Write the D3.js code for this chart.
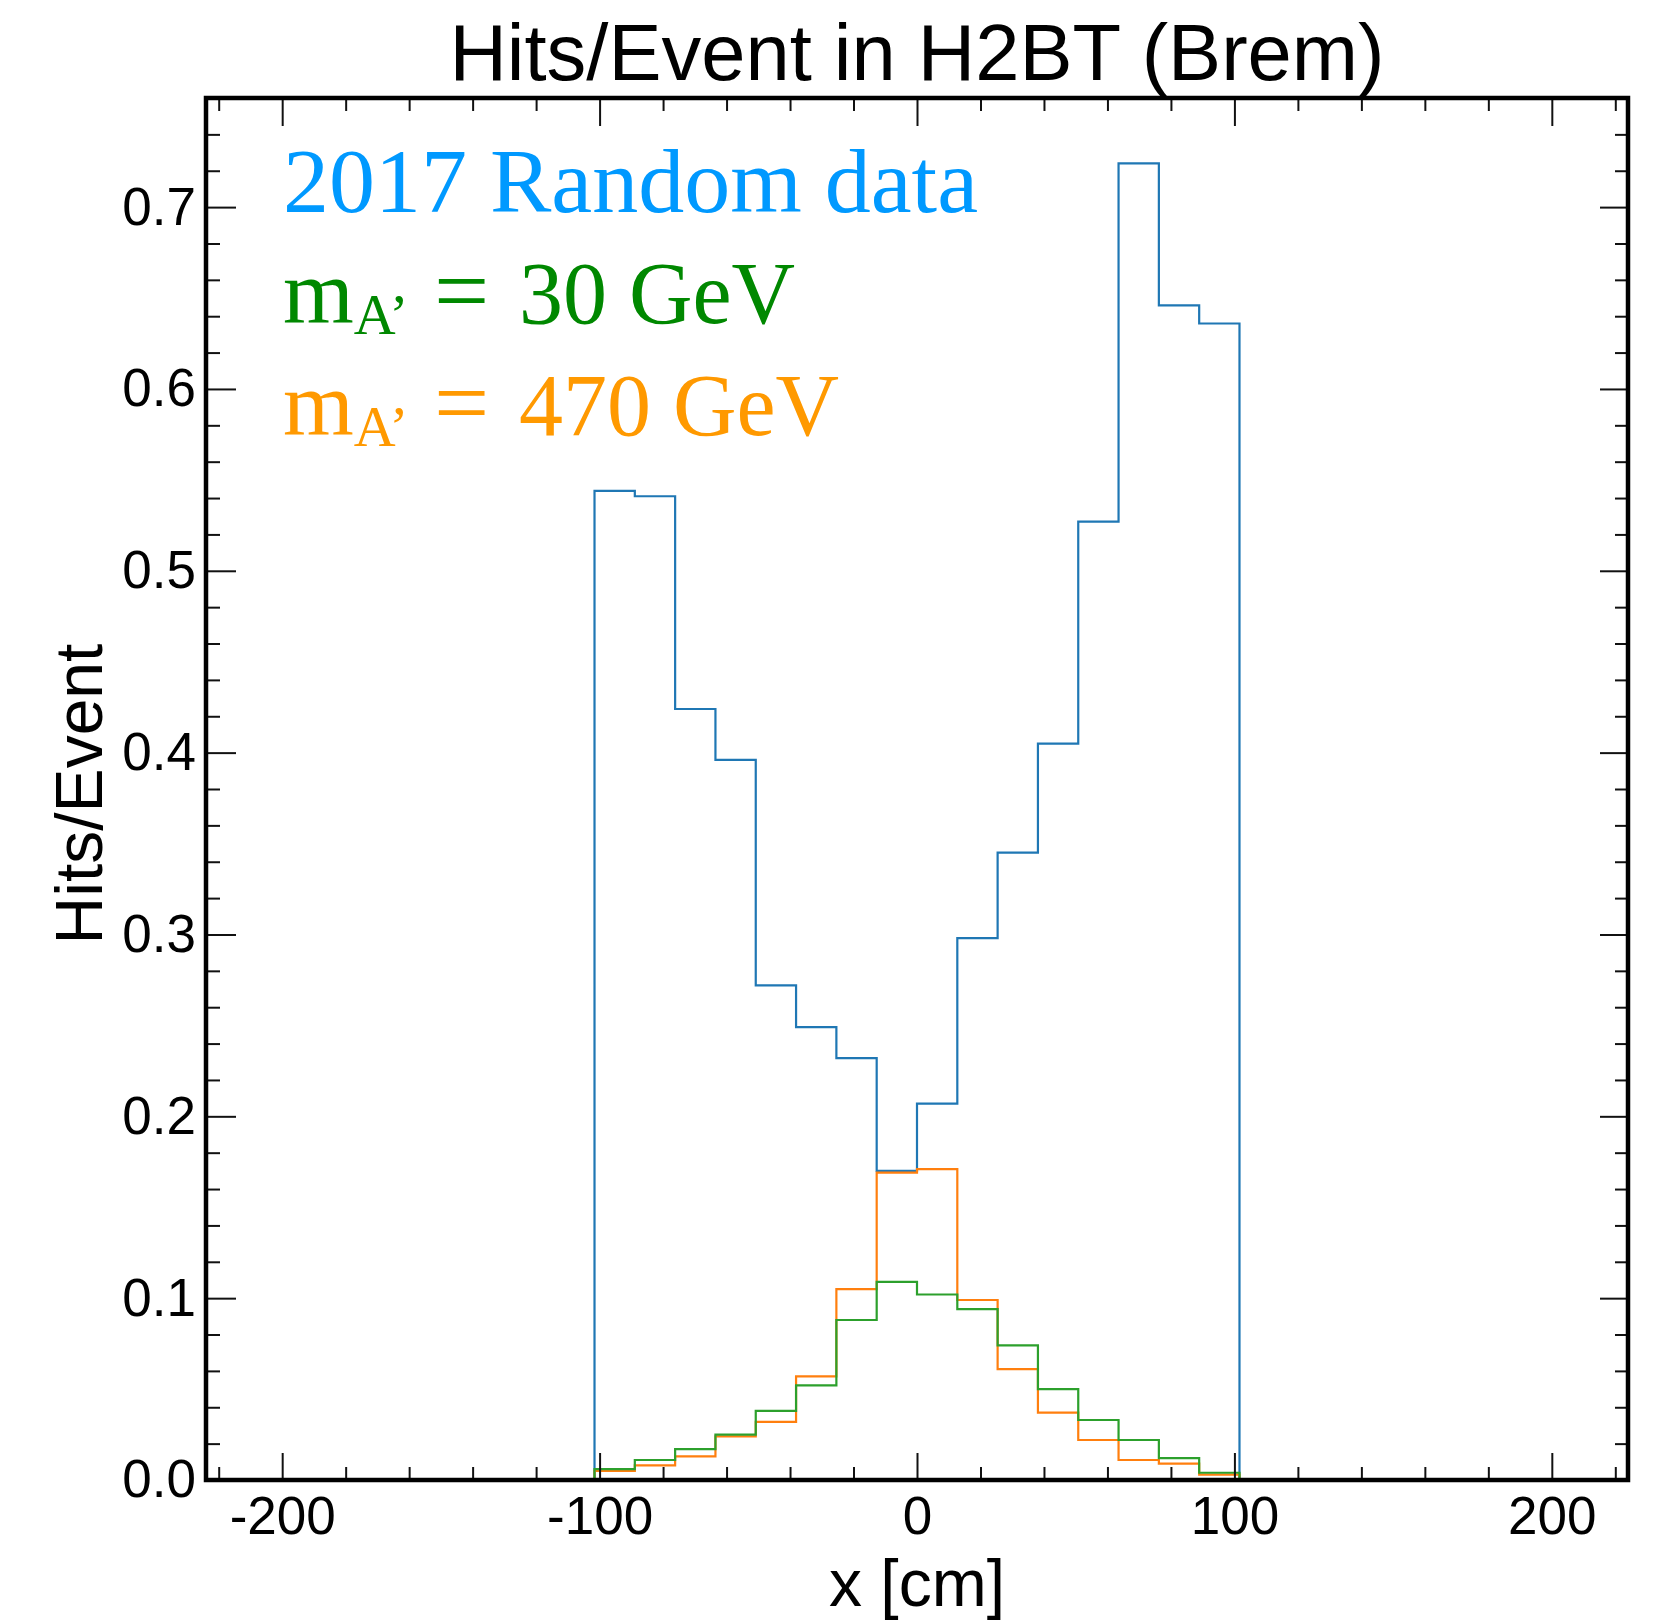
<!DOCTYPE html>
<html>
<head>
<meta charset="utf-8">
<script src="https://cdn.jsdelivr.net/npm/d3@7"></script>
<style>
  html, body { margin: 0; padding: 0; background: #fff; }
  svg { display: block; }
</style>
</head>
<body>
<script>
// Bin edges of the x distribution [cm]
const binEdges = [-101.6, -88.9, -76.2, -63.5, -50.8, -38.1, -25.4, -12.7, 0,
                  12.7, 25.4, 38.1, 50.8, 63.5, 76.2, 88.9, 101.6];
// Hits per event in each bin
const randomData = [0.544, 0.541, 0.424, 0.396, 0.272, 0.249, 0.232, 0.170,
                    0.207, 0.298, 0.345, 0.405, 0.527, 0.724, 0.646, 0.636];
const mass30 = [0.006, 0.011, 0.017, 0.025, 0.038, 0.052, 0.088, 0.109,
                0.102, 0.094, 0.074, 0.050, 0.033, 0.022, 0.012, 0.004];
const mass470 = [0.005, 0.008, 0.013, 0.024, 0.032, 0.057, 0.105, 0.169,
                 0.171, 0.099, 0.061, 0.037, 0.022, 0.011, 0.009, 0.003];

const xMajorTicks = [-200, -100, 0, 100, 200];
const xMinorTicks = [-220, -180, -160, -140, -120, -80, -60, -40, -20,
                     20, 40, 60, 80, 120, 140, 160, 180, 220];
const yMajorTicks = [0, 0.1, 0.2, 0.3, 0.4, 0.5, 0.6, 0.7];
const yMinorTicks = [0.02, 0.04, 0.06, 0.08, 0.12, 0.14, 0.16, 0.18, 0.22, 0.24,
                     0.26, 0.28, 0.32, 0.34, 0.36, 0.38, 0.42, 0.44, 0.46, 0.48,
                     0.52, 0.54, 0.56, 0.58, 0.62, 0.64, 0.66, 0.68, 0.72, 0.74];

const W = 1659, H = 1624;
const frame = { left: 206, right: 1628, top: 98, bottom: 1480 };

const svg = d3.select("body").append("svg")
  .attr("width", W).attr("height", H);

const x = d3.scaleLinear().domain([-224, 224]).range([frame.left, frame.right]);
const y = d3.scaleLinear().domain([0, 0.76]).range([frame.bottom, frame.top]);

// Step outline of a histogram, closed down to zero at both outer edges
function histPath(values) {
  const pts = [[binEdges[0], 0]];
  values.forEach((v, i) => pts.push([binEdges[i], v]));
  pts.push([binEdges[binEdges.length - 1], values[values.length - 1]]);
  pts.push([binEdges[binEdges.length - 1], 0]);
  return d3.line()
    .x(d => x(d[0])).y(d => y(d[1]))
    .curve(d3.curveStepAfter)(pts);
}

const series = [
  { values: randomData, color: "#1f77b4" },
  { values: mass470, color: "#ff7f0e" },
  { values: mass30, color: "#2ca02c" }
];

svg.append("g").selectAll("path")
  .data(series)
  .join("path")
  .attr("d", d => histPath(d.values))
  .attr("fill", "none")
  .attr("stroke", d => d.color)
  .attr("stroke-width", 2.2)
  .attr("stroke-linejoin", "miter");

// Axes: inward ticks on all four sides
const tickFont = "'Liberation Sans', Arial, Helvetica, sans-serif";
const intFormat = d => String(d);          // plain hyphen for negatives
const oneDecimal = d => d.toFixed(1);

function styleAxis(g) {
  g.select(".domain").remove();
  g.selectAll(".tick line").attr("stroke", "#111").attr("stroke-width", 2);
  g.selectAll(".tick text")
    .attr("font-family", tickFont)
    .attr("font-size", 53)
    .attr("fill", "#000");
}

// bottom
svg.append("g").attr("transform", `translate(0,${frame.bottom})`)
  .call(d3.axisBottom(x).tickValues(xMinorTicks).tickSize(-13).tickFormat(""))
  .call(styleAxis);
svg.append("g").attr("transform", `translate(0,${frame.bottom})`)
  .call(d3.axisBottom(x).tickValues(xMajorTicks).tickSize(-27).tickPadding(16)
    .tickFormat(intFormat))
  .call(styleAxis);
// top
svg.append("g").attr("transform", `translate(0,${frame.top})`)
  .call(d3.axisTop(x).tickValues(xMinorTicks).tickSize(-13).tickFormat(""))
  .call(styleAxis);
svg.append("g").attr("transform", `translate(0,${frame.top})`)
  .call(d3.axisTop(x).tickValues(xMajorTicks).tickSize(-28).tickFormat(""))
  .call(styleAxis);
// left
svg.append("g").attr("transform", `translate(${frame.left},0)`)
  .call(d3.axisLeft(y).tickValues(yMinorTicks).tickSize(-14).tickFormat(""))
  .call(styleAxis);
svg.append("g").attr("transform", `translate(${frame.left},0)`)
  .call(d3.axisLeft(y).tickValues(yMajorTicks).tickSize(-30).tickPadding(10)
    .tickFormat(oneDecimal))
  .call(styleAxis);
// right
svg.append("g").attr("transform", `translate(${frame.right},0)`)
  .call(d3.axisRight(y).tickValues(yMinorTicks).tickSize(-13).tickFormat(""))
  .call(styleAxis);
svg.append("g").attr("transform", `translate(${frame.right},0)`)
  .call(d3.axisRight(y).tickValues(yMajorTicks).tickSize(-28).tickFormat(""))
  .call(styleAxis);

// Frame
svg.append("rect")
  .attr("x", frame.left).attr("y", frame.top)
  .attr("width", frame.right - frame.left)
  .attr("height", frame.bottom - frame.top)
  .attr("fill", "none").attr("stroke", "#000").attr("stroke-width", 4.5);

// Title and axis titles
svg.append("text")
  .attr("x", (frame.left + frame.right) / 2).attr("y", 80)
  .attr("text-anchor", "middle")
  .attr("font-family", tickFont).attr("font-size", 79.5)
  .text("Hits/Event in H2BT (Brem)");

svg.append("text")
  .attr("x", (frame.left + frame.right) / 2).attr("y", 1606)
  .attr("text-anchor", "middle")
  .attr("font-family", tickFont).attr("font-size", 66)
  .text("x [cm]");

svg.append("text")
  .attr("transform", `translate(102,${(frame.top + frame.bottom) / 2 + 5}) rotate(-90)`)
  .attr("text-anchor", "middle")
  .attr("font-family", tickFont).attr("font-size", 66)
  .text("Hits/Event");

// Legend text
const serif = "'Liberation Serif', 'Times New Roman', serif";
const legend = svg.append("g").attr("font-family", serif).attr("font-size", 92);

legend.append("text")
  .attr("x", 283).attr("y", 212)
  .attr("fill", "#0099ff")
  .text("2017 Random data");

function massLabel(yBase, color, value) {
  const t = legend.append("text")
    .attr("x", 283).attr("y", yBase)
    .attr("fill", color);
  t.append("tspan").attr("font-size", 91).text("m");
  t.append("tspan").attr("font-size", 58).attr("dy", 11).text("A\u2019");
  t.append("tspan").attr("x", 434).attr("dy", -11).attr("font-size", 98).text("=");
  t.append("tspan").attr("x", 519).attr("font-size", 88).text(value + " GeV");
}
massLabel(323, "#008800", 30);
massLabel(435, "#ff9900", 470);
</script>
</body>
</html>
